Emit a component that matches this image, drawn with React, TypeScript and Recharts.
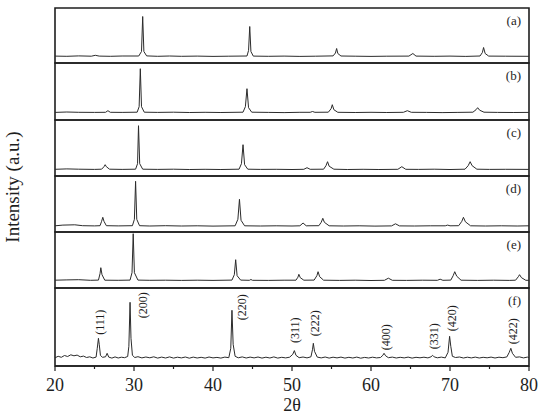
import React from 'react';
import {
  LineChart,
  Line,
  XAxis,
  YAxis,
  ReferenceArea,
  ReferenceDot
} from 'recharts';

// XRD patterns, [2theta, intensity above baseline]
const patternA = [
  [20, 0.4], [21.5, 0.2], [23, 0.6], [24.6, 0.3], [25.1, 1.2], [25.6, 0.4], [27, 0.2], [28.5, 0.5],
  [30.6, 0.5], [30.95, 5], [31.1, 40], [31.25, 5], [31.6, 0.6], [33, 0.2], [34.5, 0.5], [36, 0.2],
  [38, 0.4], [40, 0.1], [42, 0.3], [44.3, 0.5], [44.5, 6], [44.65, 30], [44.8, 5], [45.1, 0.4],
  [47, 0.2], [49, 0.4], [51, 0.1], [53, 0.3], [55.2, 0.6], [55.5, 3.5], [55.65, 8], [55.8, 3],
  [56.2, 0.5], [58, 0.3], [60, 0.1], [62, 0.3], [64.8, 0.4], [65.3, 3], [65.7, 0.4], [68, 0.2],
  [70, 0.4], [72, 0.1], [73.8, 0.5], [74.1, 4], [74.25, 9], [74.45, 3], [74.9, 0.4], [77, 0.3], [80, 0.2]
];

const patternB = [
  [20, 0.3], [21.5, 0.7], [23, 0.4], [25, 0.3], [26.4, 0.4], [26.7, 2], [27, 0.4], [28.5, 0.3],
  [30.4, 0.5], [30.65, 6], [30.8, 44], [30.95, 6], [31.3, 0.5], [33, 0.3], [35, 0.5], [37, 0.2],
  [39, 0.4], [41, 0.2], [43.8, 0.5], [44.1, 6], [44.3, 24], [44.5, 5], [44.9, 0.5], [47, 0.3],
  [49, 0.1], [51, 0.4], [52.3, 0.4], [52.6, 1.2], [52.9, 0.4], [54.6, 0.5], [54.95, 4], [55.1, 8],
  [55.3, 3], [55.8, 0.4], [58, 0.2], [60, 0.4], [62, 0.2], [64.1, 0.4], [64.6, 2], [65.1, 0.4],
  [67, 0.3], [69, 0.1], [71, 0.3], [72.9, 0.5], [73.3, 3], [73.5, 5], [73.75, 2.5], [74.3, 0.5],
  [76, 0.3], [78, 0.2], [80, 0.3]
];

const patternC = [
  [20, 0.4], [21.5, 0.8], [23, 0.5], [25, 0.3], [25.9, 0.5], [26.2, 3], [26.35, 5], [26.5, 3],
  [26.9, 0.5], [28.5, 0.3], [30.2, 0.5], [30.45, 6], [30.57, 44], [30.72, 6], [31.1, 0.5], [33, 0.3],
  [35, 0.5], [37, 0.2], [39, 0.4], [41, 0.2], [43.3, 0.5], [43.6, 6], [43.8, 25], [44, 5],
  [44.4, 0.5], [46, 0.3], [48, 0.4], [50, 0.2], [51.5, 0.4], [51.9, 2], [52.3, 0.4], [54, 0.5],
  [54.3, 4], [54.5, 8], [54.7, 3.5], [55.3, 0.5], [57, 0.2], [59, 0.4], [61, 0.2], [63.4, 0.4],
  [63.9, 3], [64.4, 0.4], [66, 0.3], [68, 0.5], [70, 0.2], [71.9, 0.5], [72.3, 4], [72.55, 8],
  [72.8, 4], [73.4, 0.5], [75, 0.3], [77, 0.4], [80, 0.3]
];

const patternD = [
  [20, 0.5], [21, 1.2], [22.5, 1.5], [23.5, 0.6], [25, 0.4], [25.7, 0.6], [25.9, 5], [26.05, 9],
  [26.2, 5], [26.5, 0.6], [28, 0.4], [29.8, 0.6], [30.05, 7], [30.2, 45], [30.35, 7], [30.7, 0.6],
  [32, 0.3], [34, 0.6], [36, 0.3], [38, 0.5], [40, 0.2], [42.8, 0.5], [43.15, 7], [43.35, 27],
  [43.55, 6], [44, 0.5], [46, 0.3], [48, 0.5], [50, 0.3], [51, 0.5], [51.4, 3.3], [51.8, 0.5],
  [53.4, 0.6], [53.7, 4], [53.9, 8], [54.1, 4], [54.7, 0.5], [56.5, 0.3], [58.5, 0.5], [60.5, 0.2],
  [62.6, 0.4], [63.1, 2.5], [63.6, 0.4], [65.5, 0.3], [67.5, 0.5], [69.4, 0.5], [69.7, 1.2], [70, 0.5],
  [71.1, 0.6], [71.5, 5], [71.7, 9], [71.95, 4.5], [72.6, 0.5], [74.5, 0.3], [76.5, 0.5], [78.5, 0.3], [80, 0.5]
];

const patternE = [
  [20, 0.5], [21.5, 0.8], [23, 1], [24.5, 0.4], [25.5, 0.6], [25.7, 7], [25.8, 13], [25.95, 6],
  [26.3, 0.5], [28, 0.4], [29.5, 0.6], [29.75, 8], [29.9, 47], [30.05, 8], [30.5, 0.6], [32, 0.4],
  [34, 0.5], [36, 0.3], [38, 0.5], [40, 0.3], [42.4, 0.6], [42.7, 6], [42.87, 21], [43.05, 5],
  [43.5, 0.6], [44.6, 0.4], [44.8, 1.2], [45, 0.4], [47, 0.3], [49, 0.5], [50.5, 0.5], [50.75, 3.5],
  [50.87, 6.4], [51.05, 3], [51.5, 0.5], [52.8, 0.6], [53.15, 5], [53.3, 9], [53.5, 4], [54, 0.5],
  [56, 0.3], [58, 0.5], [60, 0.2], [61.7, 0.4], [62.2, 2.5], [62.7, 0.4], [64.5, 0.3], [66.5, 0.5],
  [68.4, 0.4], [68.75, 1.5], [69.1, 0.4], [70.1, 0.6], [70.4, 5], [70.6, 9], [70.85, 4.5], [71.4, 0.5],
  [73.5, 0.3], [75.5, 0.5], [77.5, 0.3], [78.3, 0.5], [78.65, 4], [78.8, 6], [79.05, 3], [79.6, 0.4], [80, 0.4]
];

const patternF = [
  [20, 0.5], [20.4, 2], [20.8, 1], [21.2, 2.8], [21.6, 1.8], [22, 3.5], [22.4, 2.5], [22.8, 3.2],
  [23.2, 1.5], [23.6, 2.2], [24, 0.8], [24.4, 1.5], [24.8, 0.3], [25.2, 1.2], [25.35, 10], [25.5, 20],
  [25.6, 14], [25.75, 3], [26, 1], [26.4, 1.5], [26.6, 5], [26.8, 1.2], [27.2, 0.2], [27.6, 1.4],
  [28, 0.3], [28.4, 1.1], [28.8, 0.6], [29.2, 1.8], [29.35, 12], [29.5, 56], [29.62, 20], [29.8, 3],
  [30.1, 0.8], [30.5, 1.6], [31, 0.4], [31.5, 1.3], [32, 0.5], [32.5, 1.5], [33, 0.2], [33.5, 1.2],
  [34, 0.3], [34.5, 1.4], [35, 0.2], [35.5, 1.1], [36, 0.4], [36.5, 1.3], [37, 0.1], [37.5, 1.2],
  [38, 0.3], [38.5, 1], [39, 0.2], [39.5, 1.3], [40, 0.4], [40.5, 0.9], [41, 0.2], [41.5, 1.2],
  [42, 0.6], [42.25, 10], [42.4, 48], [42.55, 14], [42.8, 2], [43.2, 0.5], [43.7, 1.4], [44.2, 0.3],
  [44.7, 1.2], [45.2, 0.4], [45.7, 1.3], [46.2, 0.2], [46.7, 1.1], [47.2, 0.3], [47.7, 1.4], [48.2, 0.2],
  [48.7, 1], [49.2, 0.4], [49.7, 1.1], [50.1, 4], [50.3, 7.7], [50.5, 3], [50.9, 0.6], [51.4, 1.3],
  [51.9, 0.4], [52.4, 1.5], [52.6, 9], [52.7, 15], [52.85, 7], [53.2, 1.2], [53.7, 0.4], [54.2, 1.3],
  [54.7, 0.2], [55.2, 1.1], [55.7, 0.4], [56.2, 1.2], [56.7, 0.2], [57.2, 1], [57.7, 0.3], [58.2, 1.2],
  [58.7, 0.1], [59.2, 0.9], [59.7, 0.3], [60.2, 1.1], [60.7, 0.4], [61.2, 0.8], [61.5, 3], [61.65, 5],
  [61.85, 2.5], [62.2, 0.6], [62.7, 1.2], [63.2, 0.3], [63.7, 1], [64.2, 0.4], [64.7, 1.2], [65.2, 0.2],
  [65.7, 1], [66.2, 0.5], [66.7, 1.1], [67.2, 0.4], [67.6, 1.5], [67.8, 3], [68, 1.4], [68.4, 0.5],
  [68.9, 1.2], [69.4, 0.4], [69.75, 6], [69.95, 22], [70.1, 12], [70.3, 2], [70.7, 0.8], [71.2, 1.3],
  [71.7, 0.3], [72.2, 1.1], [72.7, 0.4], [73.2, 1.2], [73.7, 0.3], [74.2, 1], [74.7, 0.5], [75.2, 1.2],
  [75.7, 0.3], [76.2, 1.1], [76.7, 0.6], [77.2, 1.4], [77.5, 6], [77.7, 10], [77.9, 5], [78.3, 1],
  [78.8, 1.4], [79.3, 0.4], [79.8, 1.2], [80, 0.6]
];

// Miller indices marked on pattern (f): label, 2theta, height of label centre
const hklLabels = ['(111)', '(200)', '(220)', '(311)', '(222)', '(400)', '(331)', '(420)', '(422)'];
const hklTheta = [25.65, 31.15, 43.7, 50.4, 52.9, 61.9, 67.95, 70.25, 77.9];
const hklLevel = [36, 53, 51, 28, 35, 21, 22, 40, 27];

const xTicks = [20, 25, 30, 35, 40, 45, 50, 55, 60, 65, 70, 75, 80];

// stacking of the six patterns (bottom to top of each panel, and baseline)
const panels = [
  { id: '(a)', data: patternA, lo: 303, hi: 358, base: 309.5 },
  { id: '(b)', data: patternB, lo: 246, hi: 303, base: 253.3 },
  { id: '(c)', data: patternC, lo: 190, hi: 246, base: 196.3 },
  { id: '(d)', data: patternD, lo: 134, hi: 190, base: 139.7 },
  { id: '(e)', data: patternE, lo: 78, hi: 134, base: 85.3 },
  { id: '(f)', data: patternF, lo: 0, hi: 78, base: 7.7 }
];

const FONT = '"Liberation Serif", "Times New Roman", serif';
const INK = '#1e1e1e';

const XTick = ({ x, y, payload }: any) => {
  const major = payload.value % 10 === 0;
  return (
    <g>
      <line x1={x} x2={x} y1={y} y2={y + (major ? 5 : 3)} stroke={INK} strokeWidth={1.2} />
      {major && (
        <text x={x} y={y + 19} textAnchor="middle" dominantBaseline="central" fontSize={18} fontFamily={FONT} fill={INK}>
          {payload.value}
        </text>
      )}
    </g>
  );
};

export default function App() {
  const fBase = panels[5].base;
  return (
    <div style={{ position: 'absolute', left: 0, top: 0, width: 538, height: 414, background: '#fff' }}>
      <LineChart width={538} height={414} margin={{ top: 8, right: 9, left: 55, bottom: 0 }}>
        <XAxis
          dataKey="t"
          type="number"
          domain={[20, 80]}
          ticks={xTicks}
          interval={0}
          allowDataOverflow
          height={48}
          tickSize={0}
          tickMargin={0}
          tickLine={false}
          tick={<XTick />}
          axisLine={{ stroke: INK, strokeWidth: 1.5 }}
          label={{ value: '2θ', position: 'insideBottom', offset: 3, fontSize: 18, fontFamily: FONT, fill: INK }}
        />
        <YAxis type="number" domain={[0, 358]} hide allowDataOverflow />
        {panels.map((p) => (
          <ReferenceArea
            key={p.id}
            x1={20}
            x2={80}
            y1={p.lo}
            y2={p.hi}
            fill="none"
            stroke={INK}
            strokeWidth={1.6}
            label={{ value: p.id, position: 'insideTopRight', offset: 8, fontSize: 13, fontFamily: FONT, fill: INK }}
          />
        ))}
        {panels.map((p) => (
          <Line
            key={'l' + p.id}
            data={p.data.map(([t, v]) => ({ t, y: p.base + v }))}
            dataKey="y"
            type="linear"
            stroke="#2b2b2b"
            strokeWidth={1}
            dot={false}
            isAnimationActive={false}
          />
        ))}
        {hklLabels.map((h, i) => (
          <ReferenceDot
            key={h}
            x={hklTheta[i]}
            y={fBase + hklLevel[i]}
            r={0}
            fill="none"
            stroke="none"
            label={{ value: h, position: 'center', angle: -90, fontSize: 12, fontFamily: FONT, fill: INK }}
          />
        ))}
      </LineChart>
      <div
        style={{
          position: 'absolute',
          left: 13,
          top: 187,
          transform: 'translate(-50%, -50%) rotate(-90deg)',
          whiteSpace: 'nowrap',
          fontFamily: FONT,
          fontSize: 19,
          color: INK
        }}
      >
        Intensity (a.u.)
      </div>
    </div>
  );
}
